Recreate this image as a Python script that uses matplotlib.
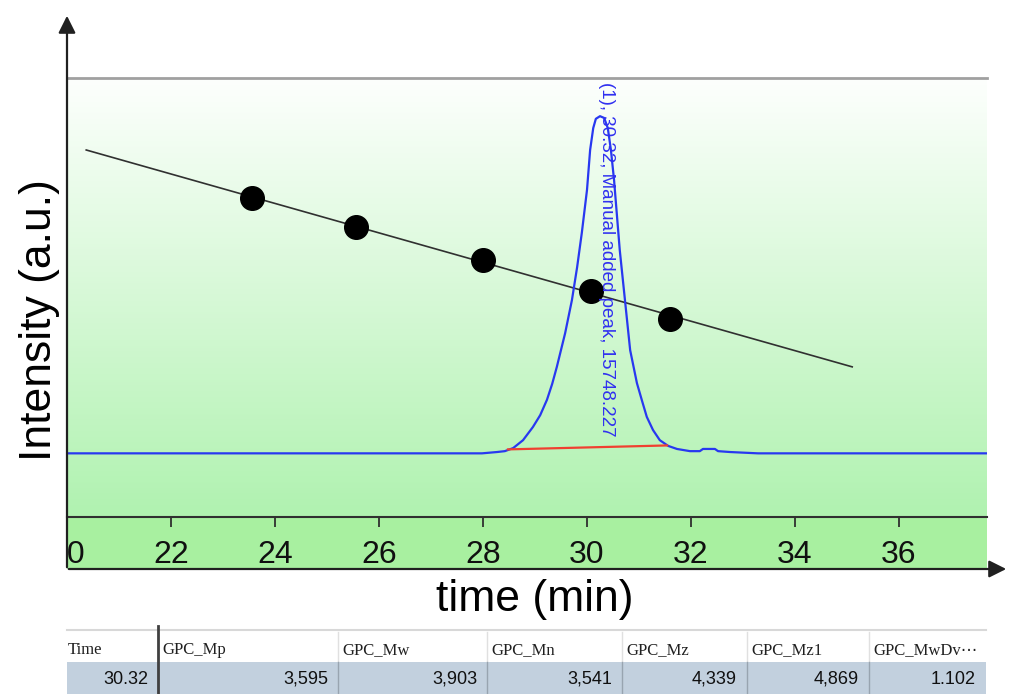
import numpy as np
import matplotlib
matplotlib.use("Agg")
import matplotlib.pyplot as plt
from matplotlib.colors import LinearSegmentedColormap

plt.rcParams['font.family'] = ['Liberation Sans', 'DejaVu Sans']

# Chromatogram trace (time in min, intensity in arbitrary units)
trace_t = [20.0, 27.98, 28.27, 28.42, 28.58, 28.77, 28.96, 29.10, 29.23, 29.33,
           29.42, 29.58, 29.71, 29.81, 29.90, 30.00, 30.06, 30.12, 30.17, 30.25,
           30.33, 30.40, 30.46, 30.52, 30.63, 30.73, 30.83, 30.96, 31.06, 31.15,
           31.27, 31.40, 31.56, 31.73, 31.98, 32.17, 32.23, 32.46, 32.52, 32.75,
           33.29, 37.69]
trace_i = [14.5, 14.5, 14.8, 15.0, 15.7, 17.5, 20.5, 23.2, 26.7, 30.3,
           34.2, 41.9, 49.4, 56.9, 64.7, 74.5, 83.6, 88.6, 90.7, 91.3,
           90.9, 88.6, 83.6, 76.8, 60.8, 49.4, 38.0, 30.5, 26.4, 22.8,
           19.8, 17.5, 16.2, 15.5, 15.0, 15.0, 15.5, 15.5, 15.0, 14.8,
           14.5, 14.5]

# Integration baseline under the peak
base_t = [28.48, 31.54]
base_i = [15.4, 16.3]

# Calibration standards and fitted line
cal_t = [23.56, 25.56, 28.00, 30.08, 31.60]
cal_i = [72.7, 66.1, 58.5, 51.5, 45.1]
fit_t = [20.37, 35.10]
fit_i = [83.6, 34.2]

# Peak annotation
peak_id = 1
peak_time = 30.32
peak_area = 15748.227

x_ticks = [20, 22, 24, 26, 28, 30, 32, 34, 36]

# Results table
col_names = ['Time', 'GPC_Mp', 'GPC_Mw', 'GPC_Mn', 'GPC_Mz', 'GPC_Mz1', 'GPC_MwDv\u22ef']
col_values = ['30.32', '3,595', '3,903', '3,541', '4,339', '4,869', '1.102']
col_edges = [67, 158, 338, 487, 622, 747, 869, 986]

W, H = 1010, 694
fig = plt.figure(figsize=(W / 100, H / 100), dpi=100)


def box(l, t, r, b):
    return [l / W, 1 - b / H, (r - l) / W, (b - t) / H]


xmin, xmax = 20, 20 + 920 / 52

# main plot area with white-to-green gradient
ax = fig.add_axes(box(67, 78, 987, 517))
ax.set_xlim(xmin, xmax)
ax.set_ylim(0, 100)
cmap = LinearSegmentedColormap.from_list('bg', ['#b0f2b0', '#fdfffd'])
ax.imshow(np.linspace(0, 1, 256).reshape(-1, 1), extent=[0, 1, 0, 1],
          transform=ax.transAxes, cmap=cmap, aspect='auto', origin='lower', zorder=0)
for s in ['left', 'right', 'bottom']:
    ax.spines[s].set_visible(False)
ax.spines['top'].set_color('#a0a0a0')
ax.spines['top'].set_linewidth(2)
ax.set_xticks([])
ax.set_yticks([])

ax.plot(fit_t, fit_i, color='#303030', lw=1.2, zorder=2)
ax.plot(trace_t, trace_i, color='#2838f0', lw=1.6, zorder=3)
ax.plot(base_t, base_i, color='#f04030', lw=1.6, zorder=4)
ax.plot(cal_t, cal_i, 'o', color='black', ms=17, zorder=5)
ax.text(peak_time + 0.05, 99, f'({peak_id}), {peak_time:.2f}, Manual added peak, {peak_area:.3f}',
        rotation=-90, ha='center', va='top', color='#3030f0', fontsize=13.5, zorder=6)

# tick band under the plot
bax = fig.add_axes(box(67, 517, 987, 569))
bax.set_xlim(xmin, xmax)
bax.set_ylim(0, 1)
bax.set_facecolor('#a8f0a0')
for s in ['left', 'right', 'bottom']:
    bax.spines[s].set_visible(False)
bax.spines['top'].set_color('#303030')
bax.spines['top'].set_linewidth(1.5)
bax.set_yticks([])
bax.xaxis.tick_top()
bax.set_xticks(x_ticks)
bax.tick_params(axis='x', direction='in', length=7, width=1.3, color='#303030',
                labeltop=False, labelbottom=False)
for t in x_ticks:
    bax.text(t, 0.115, str(t), ha='center', va='baseline', fontsize=23,
             color='#101010', clip_on=True)

# overlay in pixel coordinates for arrows, labels and table
oax = fig.add_axes([0, 0, 1, 1])
oax.set_xlim(0, W)
oax.set_ylim(H, 0)
oax.axis('off')

oax.annotate('', xy=(67, 13), xytext=(67, 570),
             arrowprops=dict(arrowstyle='-|>', color='#202020', lw=1.6, mutation_scale=26))
oax.annotate('', xy=(1009, 569), xytext=(66, 569),
             arrowprops=dict(arrowstyle='-|>', color='#202020', lw=1.6, mutation_scale=26))

oax.text(40, 320, 'Intensity (a.u.)', rotation=90, ha='center', va='center', fontsize=32)
oax.text(535, 600, 'time (min)', ha='center', va='center', fontsize=32)

# table
oax.add_patch(plt.Rectangle((67, 630), 919, 32, facecolor='white', edgecolor='none'))
oax.plot([67, 986], [630, 630], color='#d8d8d8', lw=1.5)
oax.add_patch(plt.Rectangle((67, 662), 919, 32, facecolor='#c2d0de', edgecolor='none'))
for i, (name, val) in enumerate(zip(col_names, col_values)):
    left, right = col_edges[i], col_edges[i + 1]
    oax.text(left + (1 if i == 0 else 4), 650, name, ha='left', va='center', fontsize=12,
             family=['Liberation Serif', 'DejaVu Sans'], color='#202020')
    oax.text(right - 10, 679, val, ha='right', va='center', fontsize=13, color='#101010')
    if i > 0:
        oax.plot([left, left], [632, 662], color='#e0e0e0', lw=1)
        oax.plot([left, left], [662, 694], color='#98a4b0', lw=1)
oax.plot([158, 158], [626, 694], color='#404040', lw=2)

fig.savefig('out.png', dpi=100)
